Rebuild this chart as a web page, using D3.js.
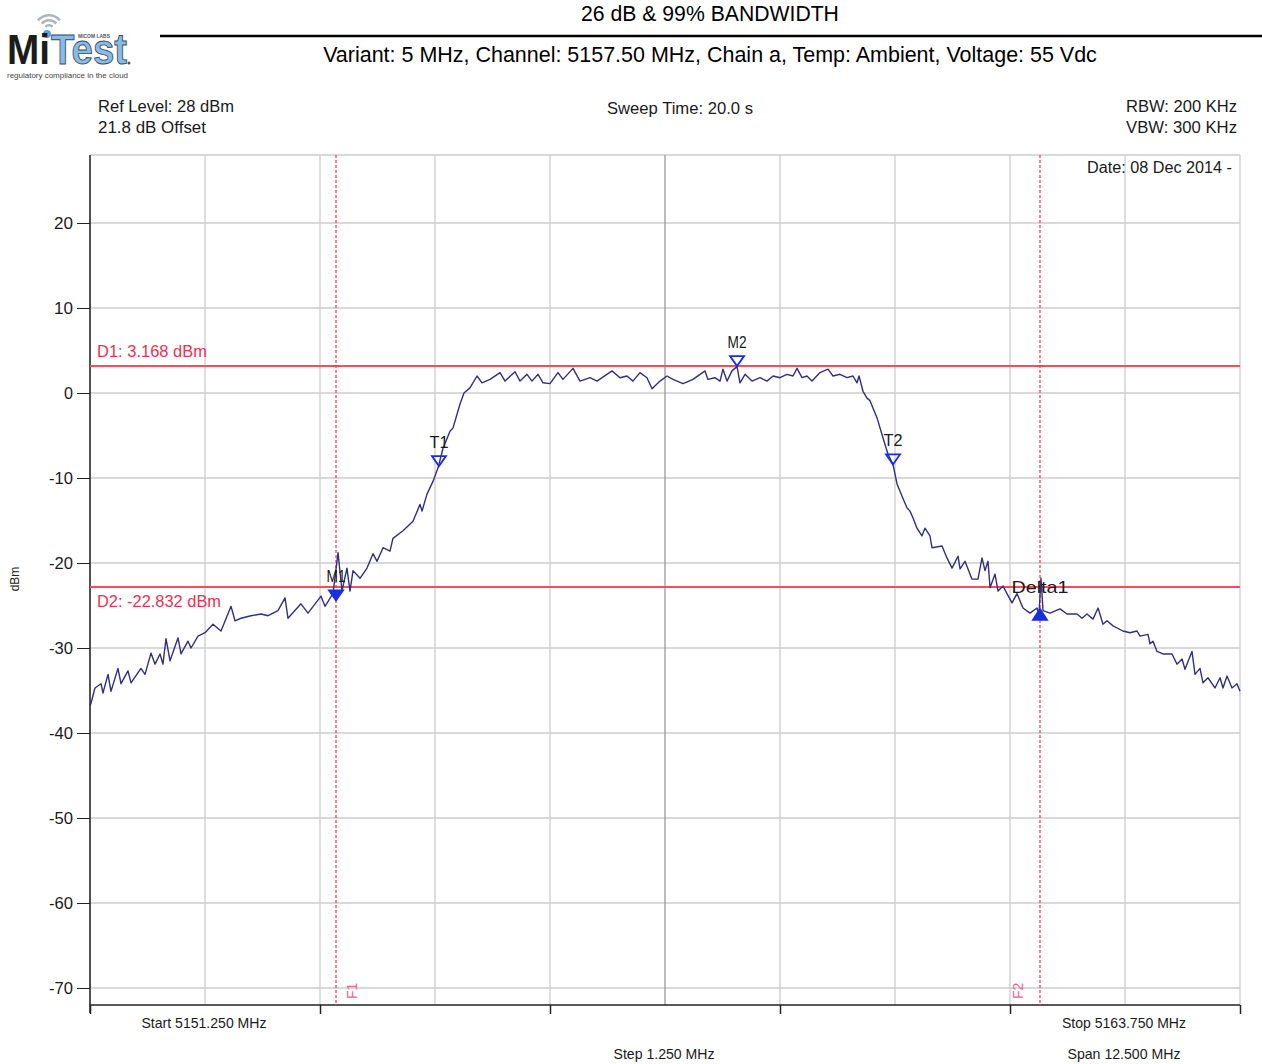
<!DOCTYPE html>
<html><head><meta charset="utf-8">
<script src="https://cdn.jsdelivr.net/npm/d3@7"></script>
<style>body{margin:0;background:#fff;} svg{display:block;} text{font-family:"Liberation Sans",Arial,sans-serif;}</style>
</head><body><svg id="c" width="1262" height="1064"></svg>
<script>
// ---------------- DATA ----------------
const titleText = "26 dB & 99% BANDWIDTH";
const variantText = "Variant: 5 MHz, Channel: 5157.50 MHz, Chain a, Temp: Ambient, Voltage: 55 Vdc";
const startMHz = 5151.25, stopMHz = 5163.75;
const refLevel = 28, bottomLevel = -72;
const yTickValues = [20, 10, 0, -10, -20, -30, -40, -50, -60, -70];
const xGridValues = [5151.25, 5152.5, 5153.75, 5155.0, 5156.25, 5157.5, 5158.75, 5160.0, 5161.25, 5162.5, 5163.75];
const xTickValues = [5151.25, 5153.75, 5156.25, 5158.75, 5161.25, 5163.75];
const displayLines = [{name: "D1", level: 3.168, label: "D1: 3.168 dBm"}, {name: "D2", level: -22.832, label: "D2: -22.832 dBm"}];
const freqLines = [{name: "F1", freq: 5153.924}, {name: "F2", freq: 5161.576}];
const markers = [
  {name: "M1", freq: 5153.924, level: -24.4, kind: "filledDown"},
  {name: "T1", freq: 5155.043, level: -8.6, kind: "openDown"},
  {name: "M2", freq: 5158.283, level: 3.168, kind: "openDown"},
  {name: "T2", freq: 5159.978, level: -8.4, kind: "openDown"},
  {name: "Delta1", freq: 5161.576, level: -26.7, kind: "filledUp"}
];
// trace: [frequency MHz, level dBm]
const trace = [
[5151.250,-36.8],[5151.261,-36.5],[5151.304,-34.7],[5151.370,-34.2],[5151.391,-35.3],[5151.446,-33.1],[5151.478,-35.1],
[5151.554,-32.4],[5151.587,-34.2],[5151.663,-32.7],[5151.696,-34.1],[5151.804,-32.4],[5151.848,-33.1],[5151.913,-30.6],
[5151.957,-31.9],[5152.011,-30.7],[5152.043,-31.9],[5152.076,-28.9],[5152.120,-31.5],[5152.207,-28.8],[5152.239,-30.7],
[5152.315,-29.2],[5152.348,-30.0],[5152.424,-28.6],[5152.500,-28.2],[5152.587,-27.2],[5152.674,-28.0],[5152.783,-25.1],
[5152.826,-26.8],[5152.891,-26.5],[5153.000,-26.2],[5153.109,-26.0],[5153.185,-26.2],[5153.293,-25.6],[5153.370,-24.1],
[5153.402,-26.5],[5153.543,-24.8],[5153.620,-25.9],[5153.761,-23.9],[5153.804,-25.1],[5153.891,-23.6],[5153.946,-18.8],
[5153.989,-23.3],[5154.043,-20.6],[5154.076,-23.3],[5154.109,-20.9],[5154.185,-21.8],[5154.261,-20.6],[5154.326,-18.9],
[5154.370,-19.8],[5154.435,-18.2],[5154.511,-18.6],[5154.543,-17.1],[5154.652,-16.2],[5154.761,-15.1],[5154.837,-13.1],
[5154.859,-13.9],[5154.913,-11.9],[5154.978,-10.4],[5155.033,-8.8],[5155.087,-6.5],[5155.163,-4.5],[5155.196,-4.1],
[5155.272,-1.3],[5155.315,0.0],[5155.380,0.6],[5155.457,2.0],[5155.511,1.2],[5155.598,1.6],[5155.707,2.4],[5155.761,1.4],
[5155.870,2.5],[5155.924,1.4],[5156.000,2.2],[5156.054,1.4],[5156.120,2.2],[5156.174,1.2],[5156.250,1.1],[5156.337,2.4],
[5156.391,1.6],[5156.500,2.9],[5156.576,1.4],[5156.685,1.8],[5156.761,1.4],[5156.924,2.6],[5157.011,1.8],[5157.087,2.0],
[5157.152,1.4],[5157.228,2.4],[5157.304,1.8],[5157.359,0.5],[5157.446,1.4],[5157.522,2.0],[5157.587,1.6],[5157.696,1.1],
[5157.804,1.6],[5157.935,2.6],[5157.967,1.6],[5158.043,1.8],[5158.098,1.4],[5158.130,2.8],[5158.174,1.4],[5158.228,2.6],
[5158.283,3.1],[5158.315,1.2],[5158.370,2.2],[5158.446,1.4],[5158.533,1.8],[5158.609,1.4],[5158.674,2.0],[5158.750,1.8],
[5158.826,2.2],[5158.891,2.0],[5158.935,2.9],[5158.989,1.8],[5159.043,2.0],[5159.098,1.4],[5159.185,2.4],[5159.272,2.8],
[5159.326,2.0],[5159.402,2.2],[5159.478,1.8],[5159.543,2.0],[5159.587,1.2],[5159.609,2.0],[5159.652,0.2],[5159.696,-0.6],
[5159.728,-0.9],[5159.804,-2.9],[5159.870,-5.3],[5159.924,-7.2],[5159.978,-8.4],[5160.022,-10.7],[5160.087,-12.4],
[5160.130,-13.5],[5160.163,-13.9],[5160.196,-14.7],[5160.239,-15.9],[5160.293,-16.8],[5160.326,-15.9],[5160.380,-16.8],
[5160.402,-18.2],[5160.511,-18.0],[5160.565,-19.4],[5160.620,-20.6],[5160.685,-19.2],[5160.707,-20.7],[5160.761,-19.8],
[5160.837,-21.9],[5160.902,-21.9],[5160.946,-19.4],[5160.978,-20.9],[5161.011,-19.8],[5161.033,-22.9],[5161.087,-21.3],
[5161.120,-23.3],[5161.174,-22.7],[5161.217,-23.6],[5161.272,-24.7],[5161.326,-23.6],[5161.391,-25.3],[5161.467,-25.9],
[5161.543,-25.3],[5161.565,-26.0],[5161.587,-21.8],[5161.609,-25.6],[5161.685,-25.9],[5161.793,-25.4],[5161.870,-26.0],
[5161.978,-26.0],[5162.033,-26.5],[5162.087,-26.0],[5162.152,-26.6],[5162.207,-25.3],[5162.261,-27.2],[5162.304,-26.8],
[5162.370,-27.4],[5162.478,-28.0],[5162.554,-28.2],[5162.630,-28.0],[5162.663,-28.6],[5162.750,-28.4],[5162.772,-29.5],
[5162.804,-29.2],[5162.848,-30.4],[5162.913,-30.7],[5163.011,-30.7],[5163.065,-31.9],[5163.120,-31.3],[5163.152,-32.5],
[5163.228,-30.4],[5163.261,-33.1],[5163.315,-32.4],[5163.348,-34.1],[5163.402,-33.5],[5163.478,-34.7],[5163.533,-33.5],
[5163.565,-34.7],[5163.609,-33.3],[5163.663,-34.7],[5163.717,-34.2],[5163.750,-35.1]
];

// ---------------- DRAW ----------------
const svg = d3.select("#c");
const L = 90, R = 1240, T = 155, B = 1005;
const x = d3.scaleLinear().domain([startMHz, stopMHz]).range([L, R]);
const y = d3.scaleLinear().domain([bottomLevel, refLevel]).range([B, T]);

function squeeze(sel, w) { sel.attr("textLength", w).attr("lengthAdjust", "spacingAndGlyphs"); return sel; }
function fitFont(sel, w, base) {
  sel.style("font-size", base + "px");
  const m = sel.node().getComputedTextLength();
  sel.style("font-size", (base * w / m).toFixed(2) + "px");
}

// Logo
const logo = svg.append("g");
[6, 11, 16].forEach(r => {
  logo.append("path")
    .attr("d", d3.arc()({innerRadius: r - 2.6, outerRadius: r, startAngle: -0.85, endAngle: 0.85}))
    .attr("transform", "translate(49,30)").attr("fill", "#a9b6c4");
});
logo.append("circle").attr("cx", 47).attr("cy", 34).attr("r", 4).attr("fill", "#5aa0dc");
const mi = logo.append("text").attr("x", 7).attr("y", 64).text("Mi")
  .style("font-size", "42px").style("font-weight", "bold").attr("fill", "#1c1c1c");
squeeze(mi, 43);
const tst = logo.append("text").attr("x", 51).attr("y", 64).text("Test")
  .style("font-size", "42px").style("font-weight", "bold").attr("fill", "#86bde8")
  .attr("stroke", "#3d4a58").attr("stroke-width", 0.9);
squeeze(tst, 76);
logo.append("circle").attr("cx", 129).attr("cy", 63).attr("r", 1.5).attr("fill", "#555");
squeeze(logo.append("text").attr("x", 78).attr("y", 38).text("MICOM LABS")
  .style("font-size", "5px").style("font-weight", "bold").attr("fill", "#555"), 32);
squeeze(logo.append("text").attr("x", 7).attr("y", 78).text("regulatory compliance in the cloud")
  .style("font-size", "8px").attr("fill", "#444"), 121);

// Header
const t1 = svg.append("text").attr("x", 710).attr("y", 21).attr("text-anchor", "middle").text(titleText).attr("fill", "#000");
fitFont(t1, 258, 18);
svg.append("line").attr("x1", 160).attr("x2", 1262).attr("y1", 36).attr("y2", 36).attr("stroke", "#000").attr("stroke-width", 2.5);
const t2 = svg.append("text").attr("x", 710).attr("y", 62).attr("text-anchor", "middle").text(variantText).attr("fill", "#000");
fitFont(t2, 774, 18);

// Info texts (narrow look)
function info(txt, xx, yy, w, anchor, size, color) {
  const s = svg.append("text").attr("x", xx).attr("y", yy).attr("text-anchor", anchor || "start")
    .text(txt).style("font-size", (size || 17) + "px").attr("fill", color || "#1a1a1a");
  squeeze(s, w);
  return s;
}
info("Ref Level: 28 dBm", 98, 112, 136);
info("21.8 dB Offset", 98, 133, 108);
info("Sweep Time: 20.0 s", 680, 114, 146, "middle");
info("RBW: 200 KHz", 1237, 112, 111, "end");
info("VBW: 300 KHz", 1237, 133, 111, "end");

// Grid
const g = svg.append("g");
g.selectAll(".hg").data(yTickValues).join("line")
  .attr("x1", L).attr("x2", R).attr("y1", d => y(d)).attr("y2", d => y(d))
  .attr("stroke", "#cdcdcd").attr("stroke-width", 1.3);
g.append("line").attr("x1", L).attr("x2", R).attr("y1", T).attr("y2", T).attr("stroke", "#cdcdcd").attr("stroke-width", 1.3);
g.selectAll(".vg").data(xGridValues).join("line")
  .attr("x1", d => x(d)).attr("x2", d => x(d)).attr("y1", T).attr("y2", B)
  .attr("stroke", (d, i) => i === 5 ? "#9a9a9a" : "#cdcdcd").attr("stroke-width", 1.3);

// Date
info("Date: 08 Dec 2014 -", 1232, 173, 145, "end", 16);

// Axes
const yAxis = d3.axisLeft(y).tickValues(yTickValues).tickSize(13).tickPadding(4).tickFormat(d => String(d));
const ya = svg.append("g").attr("transform", `translate(${L},0)`).call(yAxis);
ya.select(".domain").remove();
ya.selectAll("line").attr("stroke", "#222");
ya.selectAll("text").style("font-size", "17px").attr("fill", "#1a1a1a").style("font-family", '"Liberation Sans",Arial,sans-serif')
  .each(function() { const t = d3.select(this); const n = t.text().length; t.attr("textLength", n === 1 ? 9 : (n === 2 ? 19 : 24)).attr("lengthAdjust", "spacingAndGlyphs"); });
svg.append("line").attr("x1", L).attr("x2", L).attr("y1", T).attr("y2", B + 8).attr("stroke", "#222").attr("stroke-width", 1.5);

const xAxis = d3.axisBottom(x).tickValues(xTickValues).tickSize(9).tickFormat("");
const xa = svg.append("g").attr("transform", `translate(0,${B})`).call(xAxis);
xa.select(".domain").remove();
xa.selectAll("line").attr("stroke", "#222").attr("stroke-width", 1.5);
svg.append("line").attr("x1", L).attr("x2", R).attr("y1", B).attr("y2", B).attr("stroke", "#222").attr("stroke-width", 1.5);

svg.append("text").attr("transform", "translate(19,579) rotate(-90)").attr("text-anchor", "middle")
  .text("dBm").style("font-size", "12px").attr("fill", "#222");

info("Start 5151.250 MHz", 204, 1028, 125, "middle", 15);
info("Stop 5163.750 MHz", 1124, 1028, 124, "middle", 15);
info("Step 1.250 MHz", 664, 1059, 101, "middle", 15);
info("Span 12.500 MHz", 1124, 1059, 113, "middle", 15);

// Display lines
displayLines.forEach(dl => {
  svg.append("line").attr("x1", L).attr("x2", R).attr("y1", y(dl.level)).attr("y2", y(dl.level))
    .attr("stroke", "#ff4a5e").attr("stroke-width", 2);
  info(dl.label, 97, y(dl.level) - 9 + (dl.name === "D2" ? 29 : 0), dl.name === "D1" ? 110 : 124, "start", 17, "#ee3050");
});

// Frequency lines
freqLines.forEach(fl => {
  svg.append("line").attr("x1", x(fl.freq)).attr("x2", x(fl.freq)).attr("y1", T).attr("y2", B)
    .attr("stroke", "#ff2a40").attr("stroke-width", 1.2).attr("stroke-dasharray", "3,2");
  const lx = fl.name === "F1" ? x(fl.freq) + 21 : x(fl.freq) - 17;
  svg.append("text").attr("transform", `translate(${lx},${B - 6}) rotate(-90)`)
    .text(fl.name).style("font-size", "14px").attr("fill", "#f06090");
});

// Trace
svg.append("path").datum(trace)
  .attr("d", d3.line().x(d => x(d[0])).y(d => y(d[1])))
  .attr("fill", "none").attr("stroke", "#30307e").attr("stroke-width", 1.4).attr("stroke-linejoin", "round");

// Markers
markers.forEach(m => {
  const mx = x(m.freq), my = y(m.level);
  let pts, fill, ly;
  if (m.kind === "filledUp") {
    pts = [[mx - 7, my], [mx + 7, my], [mx, my - 11]];
    fill = "#1a2ee0"; ly = my - 27;
  } else {
    pts = [[mx - 7, my - 10], [mx + 7, my - 10], [mx, my]];
    fill = m.kind === "filledDown" ? "#1a2ee0" : "none"; ly = my - 18;
  }
  svg.append("path").attr("d", d3.line()(pts) + "Z")
    .attr("fill", fill).attr("stroke", "#1a2ee0").attr("stroke-width", 1.8);
  svg.append("text").attr("x", mx).attr("y", ly).attr("text-anchor", "middle")
    .text(m.name).style("font-size", "17px").attr("fill", "#1a1a1a")
    .attr("textLength", m.name.length * 9.5).attr("lengthAdjust", "spacingAndGlyphs");
});
</script></body></html>
